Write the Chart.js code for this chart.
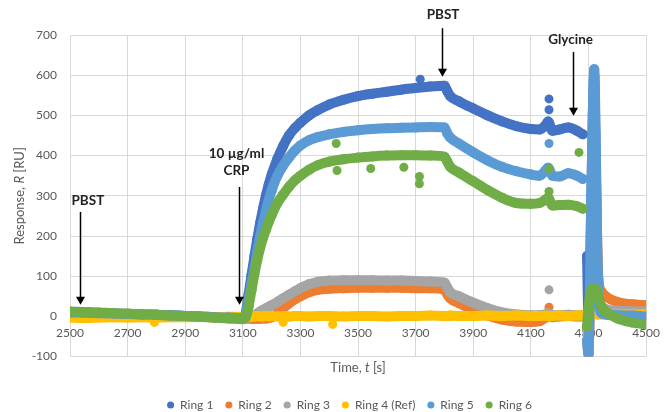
<!DOCTYPE html>
<html>
<head>
<meta charset="utf-8">
<script src="https://cdn.jsdelivr.net/npm/chart.js@4/dist/chart.umd.min.js"></script>
<style>
  html, body { margin: 0; padding: 0; background: #ffffff; }
  canvas { display: block; }
</style>
</head>
<body>
<canvas id="c" width="670" height="412"></canvas>
<script>
// ---- data ----
const times = [
  2500, 2550, 2600, 2650, 2700, 2750, 2800, 2850, 2900, 2950,
  3000, 3050, 3100, 3110, 3120, 3130, 3140, 3150, 3160, 3170,
  3180, 3190, 3200, 3220, 3240, 3260, 3280, 3300, 3330, 3360,
  3400, 3450, 3500, 3550, 3600, 3650, 3700, 3750, 3800, 3810,
  3820, 3850, 3900, 3950, 4000, 4050, 4100, 4130, 4150, 4160,
  4175, 4200, 4230, 4260, 4280, 4288, 4295, 4300, 4305, 4310,
  4315, 4320, 4325, 4330, 4335, 4345, 4360, 4400, 4450, 4500
];
const ring1 = [
  10, 9, 8, 7, 6, 5, 4, 3, 1, 0,
  -2, -3, -4, 8, 55, 102, 148, 192, 232, 268,
  300, 328, 352, 392, 424, 450, 468, 482, 500, 513,
  527, 539, 548, 554, 559, 564, 568, 572, 574, 560,
  548, 535, 517, 500, 485, 473, 466, 465, 475, 485,
  462, 465, 470, 462, 453, null, 150, 0, 100, 300,
  500, 600, 400, 150, 40, 10, 5, 3, 2, 2
];
const ring2 = [
  8, 7, 6, 5, 4, 3, 2, 1, 0, -1,
  -2, -3, -4, -5, -5, -6, -6, -6, -6, -5,
  -5, -4, -2, 8, 20, 32, 42, 50, 60, 66,
  69, 70, 71, 71, 71, 71, 70, 70, 66, 55,
  45, 33, 16, 2, -8, -13, -14, -12, -4, 2,
  -2, 0, 1, 0, 0, null, -60, -92, 20, 80,
  200, 300, 360, 200, 90, 62, 50, 36, 30, 28
];
const ring3 = [
  8, 7, 6, 5, 4, 3, 2, 1, 0, -1,
  -2, -3, -4, -3, -2, 0, 3, 7, 12, 16,
  20, 24, 28, 36, 45, 54, 62, 70, 80, 86,
  89, 90, 90, 90, 89, 89, 88, 87, 84, 72,
  60, 50, 34, 20, 10, 5, 3, 3, 5, 8,
  3, 3, 4, 3, 3, null, -30, -60, 10, 50,
  100, 200, 320, 150, 50, 25, 18, 14, 13, 12
];
const ring4 = [
  -3, -4, -3, -2, -3, -2, -3, -2, -2, -1,
  -2, -1, -1, 0, -1, 0, 0, 1, 0, 0,
  1, 0, 1, 0, 1, 0, 1, 1, 0, 1,
  1, 0, 1, 1, 0, 1, 1, 2, 1, 1,
  2, 1, 1, 2, 1, 2, 1, 1, 2, 1,
  1, 2, 1, 2, 2, null, -2, -5, 0, 10,
  30, 20, 10, 5, 5, 5, 5, 5, 5, 5
];
const ring5 = [
  10, 9, 8, 7, 6, 5, 4, 3, 1, 0,
  -2, -3, -4, 6, 40, 80, 120, 160, 198, 232,
  262, 290, 313, 350, 375, 395, 412, 425, 438, 446,
  453, 459, 463, 466, 468, 469, 470, 471, 470, 455,
  445, 430, 408, 388, 372, 361, 353, 350, 362, 370,
  350, 348, 356, 350, 342, null, -60, -95, 80, 300,
  500, 615, 450, 200, 50, 8, 5, 3, 2, 0
];
const ring6 = [
  12, 11, 10, 8, 7, 5, 4, 2, 1, -1,
  -3, -5, -7, -2, 25, 65, 105, 140, 170, 195,
  215, 235, 252, 282, 303, 322, 338, 350, 365, 376,
  385, 391, 395, 398, 400, 401, 401, 400, 397, 385,
  372, 358, 336, 314, 295, 282, 280, 282, 290, 295,
  276, 277, 278, 274, 268, null, -25, 20, 50, 65,
  70, 70, 68, 65, 45, 25, 12, -5, -15, -20
];
// stray single readings [time, response]
const ring1Stray = [[3716, 590], [4163, 541], [4163, 514]];
const ring2Stray = [[4163, 23]];
const ring3Stray = [[4163, 66]];
const ring4Stray = [[2793, -15], [3240, -15], [3412, -20]];
const ring5Stray = [[4163, 430]];
const ring6Stray = [[3424, 430], [3427, 363], [3544, 368], [3659, 371], [3713, 348], [3713, 330], [4163, 311], [4163, 367], [4267, 408]];

const seriesNames = ['Ring 1', 'Ring 2', 'Ring 3', 'Ring 4 (Ref)', 'Ring 5', 'Ring 6'];
const xTicks = [2500, 2700, 2900, 3100, 3300, 3500, 3700, 3900, 4100, 4300, 4500];
const yTicks = [-100, 0, 100, 200, 300, 400, 500, 600, 700];

// annotations: text lines, arrow position in data units
const notes = [
  { lines: ['PBST'], tText: 2562, vText: [288], tArrow: 2534, vFrom: 260, vTip: 29 },
  { lines: ['10 \u00b5g/ml', 'CRP'], tText: 3078, vText: [404, 362], tArrow: 3088, vFrom: 322, vTip: 29 },
  { lines: ['PBST'], tText: 3795, vText: [750], tArrow: 3793, vFrom: 717, vTip: 596 },
  { lines: ['Glycine'], tText: 4238, vText: [688], tArrow: 4245, vFrom: 658, vTip: 499 }
];

// ---- styling ----
const colors = ['#4472C4', '#ED7D31', '#A5A5A5', '#FFC000', '#5B9BD5', '#70AD47'];
const mainSeries = [ring1, ring2, ring3, ring4, ring5, ring6];
const straySeries = [ring1Stray, ring2Stray, ring3Stray, ring4Stray, ring5Stray, ring6Stray];

const datasets = [];
mainSeries.forEach((vals, i) => {
  datasets.push({
    label: seriesNames[i],
    data: times.map((t, k) => ({ x: t, y: vals[k] })),
    showLine: true,
    spanGaps: false,
    borderColor: colors[i],
    backgroundColor: colors[i],
    borderWidth: 10,
    borderCapStyle: 'round',
    borderJoinStyle: 'round',
    cubicInterpolationMode: 'monotone',
    pointRadius: 5,
    pointBorderWidth: 0,
    pointHoverRadius: 5,
    order: 6 - i
  });
});
straySeries.forEach((pts, i) => {
  datasets.push({
    label: '',
    data: pts.map(p => ({ x: p[0], y: p[1] })),
    showLine: false,
    backgroundColor: colors[i],
    borderColor: colors[i],
    pointRadius: 4.5,
    pointBorderWidth: 0,
    order: 6 - i
  });
});

const FONT = 'Lato, "Open Sans", sans-serif';

function drawMixed(ctx, parts, cx, cy, size, color) {
  let total = 0;
  const widths = parts.map(([txt, it]) => {
    ctx.font = (it ? 'italic ' : '') + size + 'px ' + FONT;
    const w = ctx.measureText(txt).width;
    total += w;
    return w;
  });
  let xx = cx - total / 2;
  ctx.fillStyle = color;
  ctx.textBaseline = 'middle';
  ctx.textAlign = 'left';
  parts.forEach(([txt, it], i) => {
    ctx.font = (it ? 'italic ' : '') + size + 'px ' + FONT;
    ctx.fillText(txt, xx, cy);
    xx += widths[i];
  });
}

const decorPlugin = {
  id: 'decor',
  afterLayout(chart) {
    // centre the legend row under the plot the way the reference does
    if (chart.legend) { chart.legend.left += 48; }
  },
  afterDraw(chart) {
    const { ctx, chartArea, scales } = chart;
    const xs = scales.x, ys = scales.y;
    ctx.save();
    // axis titles
    ctx.save();
    ctx.translate(20, (chartArea.top + chartArea.bottom) / 2);
    ctx.rotate(-Math.PI / 2);
    drawMixed(ctx, [['Response, ', false], ['R', true], [' [RU]', false]], 0, 0, 13, '#595959');
    ctx.restore();
    drawMixed(ctx, [['Time, ', false], ['t', true], [' [s]', false]],
      (chartArea.left + chartArea.right) / 2, chartArea.bottom + 11.5, 13, '#595959');

    // annotations
    notes.forEach(n => {
      ctx.font = 'bold 13.5px ' + FONT;
      ctx.fillStyle = '#222222';
      ctx.textAlign = 'center';
      ctx.textBaseline = 'middle';
      n.lines.forEach((ln, i) => {
        ctx.fillText(ln, xs.getPixelForValue(n.tText), ys.getPixelForValue(n.vText[i]));
      });
      const ax = Math.round(xs.getPixelForValue(n.tArrow)) + 0.5;
      const y1 = ys.getPixelForValue(n.vFrom);
      const y2 = ys.getPixelForValue(n.vTip);
      ctx.strokeStyle = '#000000';
      ctx.lineWidth = 1.5;
      ctx.beginPath();
      ctx.moveTo(ax, y1);
      ctx.lineTo(ax, y2 - 7);
      ctx.stroke();
      ctx.fillStyle = '#000000';
      ctx.beginPath();
      ctx.moveTo(ax - 4.5, y2 - 8);
      ctx.lineTo(ax + 4.5, y2 - 8);
      ctx.lineTo(ax, y2);
      ctx.closePath();
      ctx.fill();
    });
    ctx.restore();
  }
};

new Chart(document.getElementById('c'), {
  type: 'scatter',
  data: { datasets },
  options: {
    responsive: false,
    animation: false,
    devicePixelRatio: 1,
    layout: { padding: { left: 0, right: 19, top: 35, bottom: -9 } },
    plugins: {
      tooltip: { enabled: false },
      legend: {
        position: 'bottom',
        labels: {
          usePointStyle: true,
          pointStyle: 'circle',
          boxWidth: 7,
          boxHeight: 5,
          padding: 12,
          color: '#595959',
          font: { size: 12, family: FONT },
          filter: (item) => item.text !== '',
          sort: (a, b) => a.datasetIndex - b.datasetIndex
        },
        title: { display: true, text: ' ', padding: { top: 8, bottom: 8 }, font: { size: 12 } }
      }
    },
    scales: {
      x: {
        type: 'linear',
        position: { y: 0 },
        min: 2500,
        max: 4500,
        afterBuildTicks: (s) => { s.ticks = xTicks.map(v => ({ value: v })); },
        ticks: {
          autoSkip: false,
          maxRotation: 0,
          padding: 10,
          color: '#595959',
          font: { size: 12, family: FONT },
          callback: (v) => String(v)
        },
        grid: { color: '#d9d9d9', lineWidth: 1, drawTicks: false },
        border: { display: false }
      },
      y: {
        min: -100,
        max: 700,
        afterBuildTicks: (s) => { s.ticks = yTicks.map(v => ({ value: v })); },
        afterFit: (s) => { s.width = 70; },
        ticks: {
          padding: 13,
          color: '#595959',
          font: { size: 12, family: FONT },
          callback: (v) => String(v)
        },
        grid: { color: '#d9d9d9', lineWidth: 1, drawTicks: false },
        border: { display: false }
      }
    }
  },
  plugins: [decorPlugin]
});
</script>
</body>
</html>
